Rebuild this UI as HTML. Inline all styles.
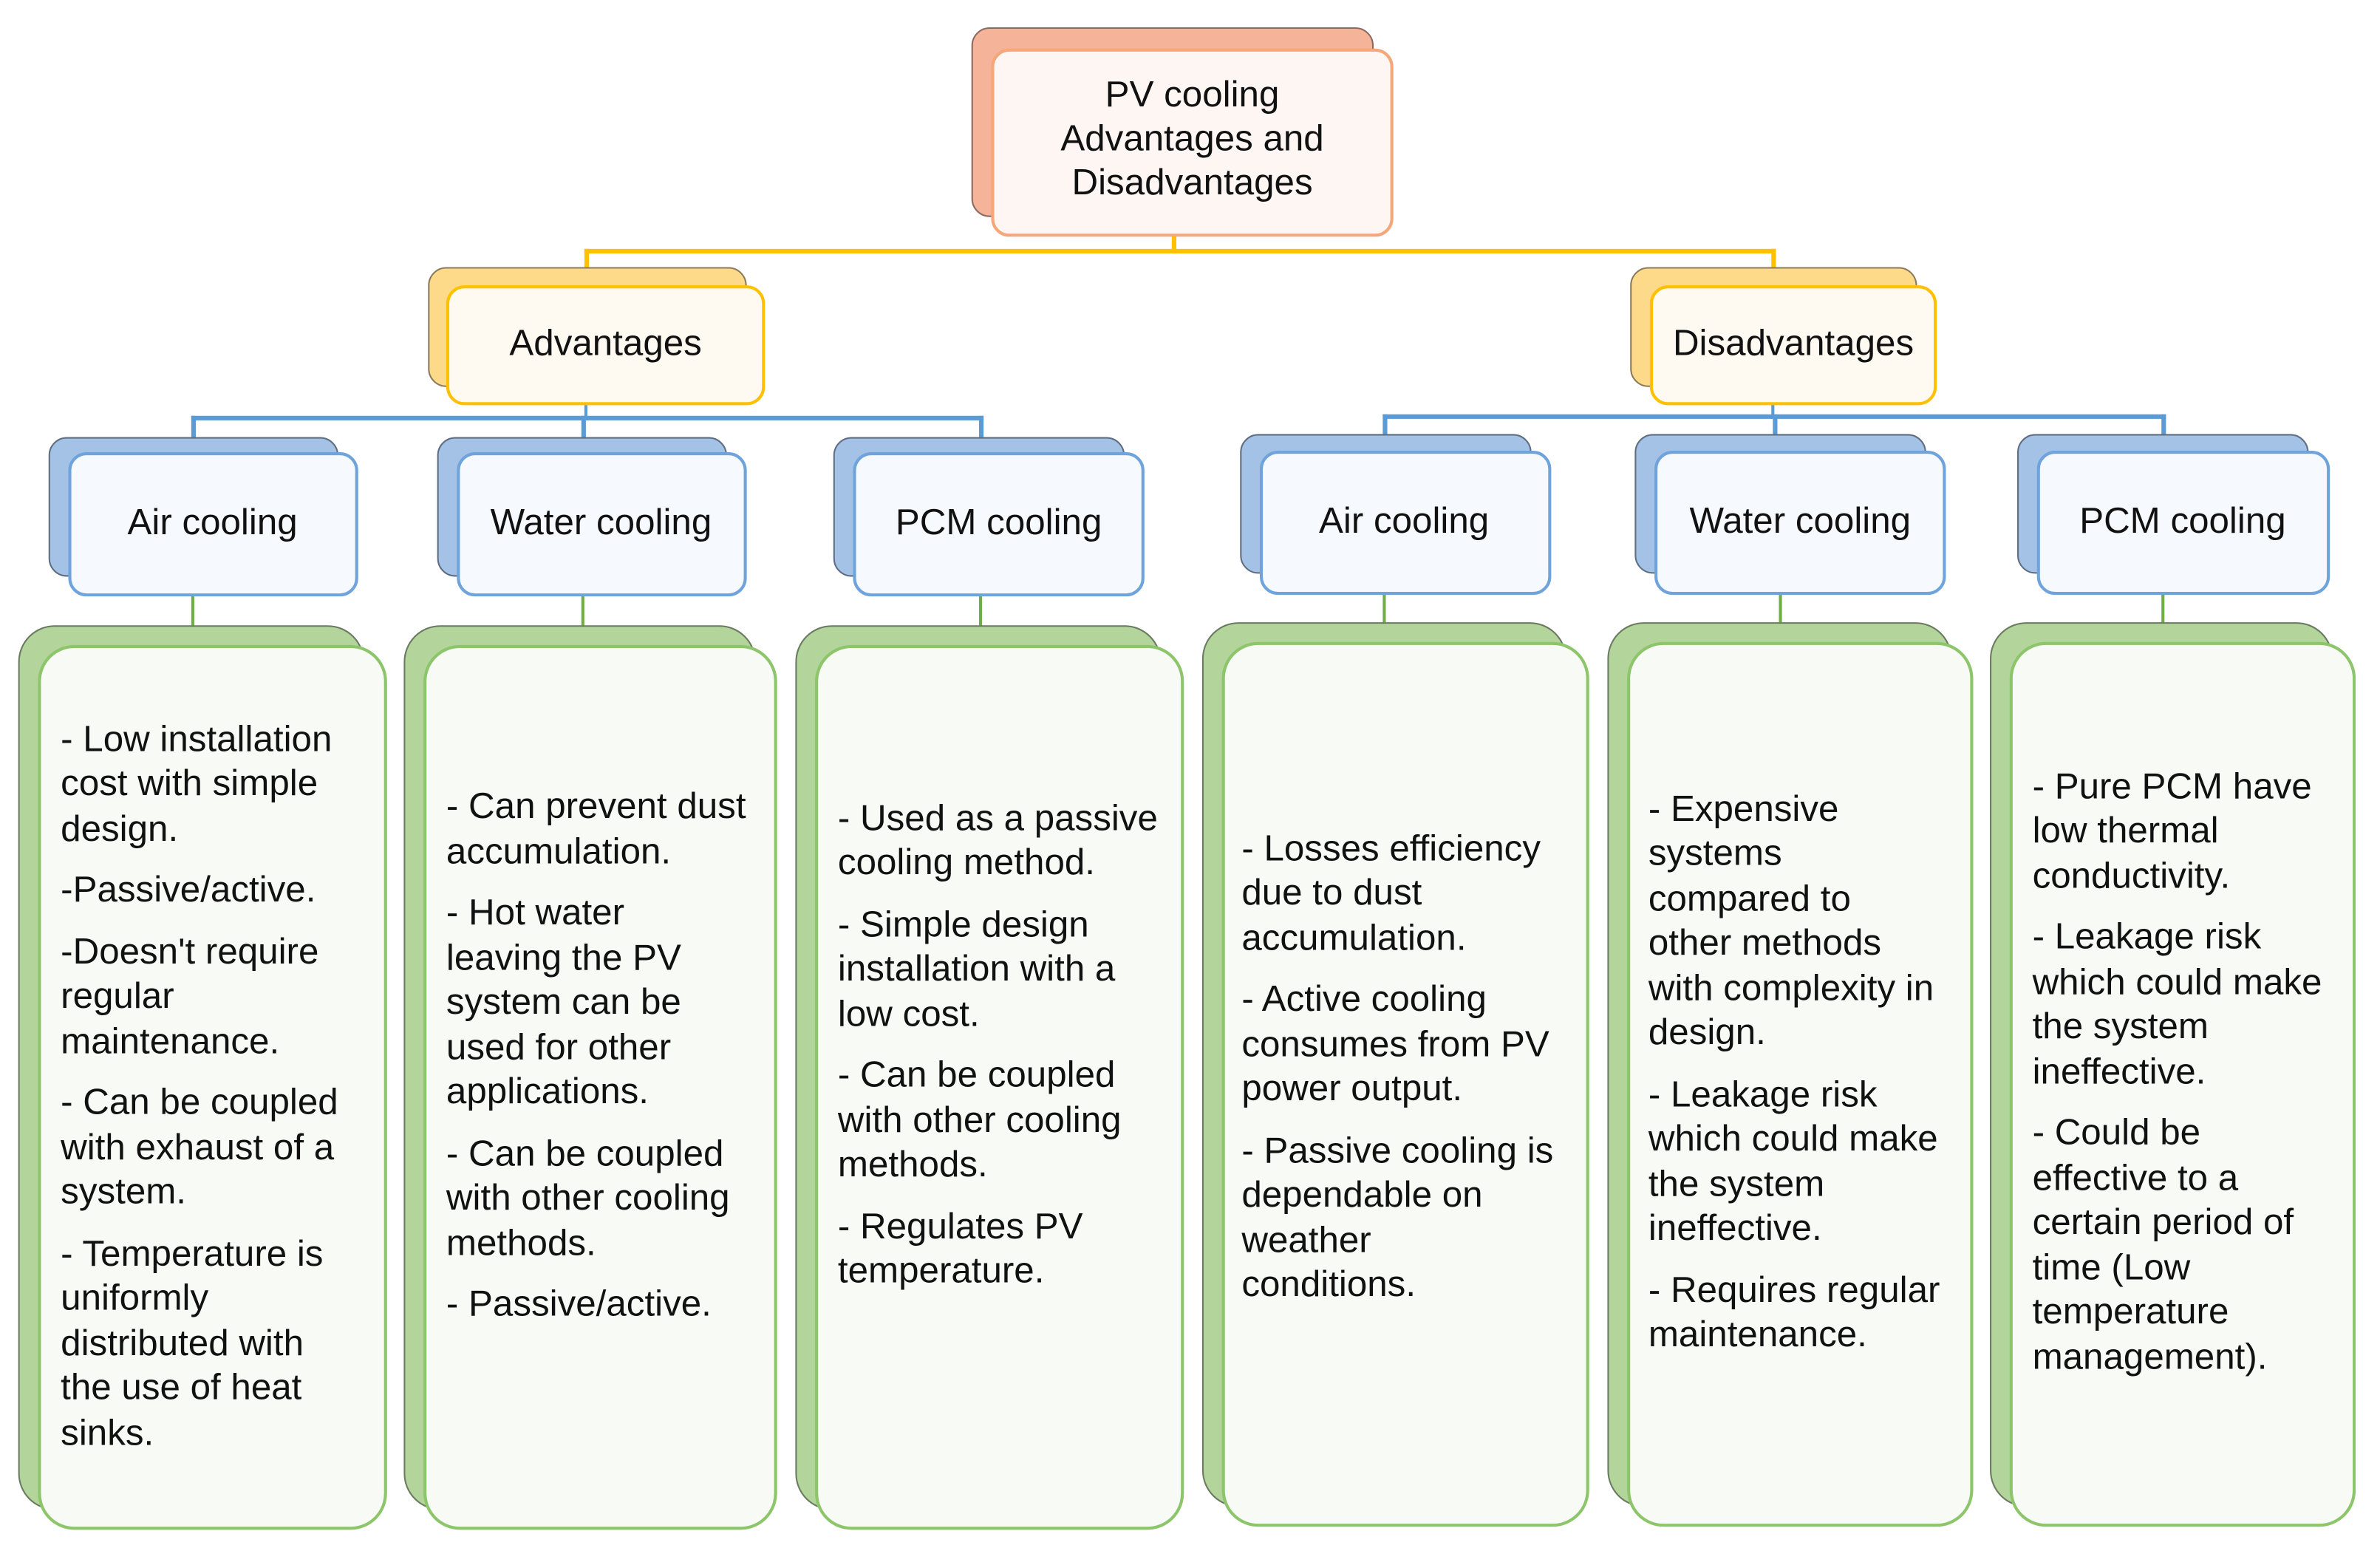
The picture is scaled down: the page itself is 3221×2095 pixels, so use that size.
<!DOCTYPE html>
<html><head><meta charset="utf-8"><style>
html,body{margin:0;padding:0;background:#fff;overflow:hidden}
#w{width:1568px;height:1020px;position:relative;transform:scale(2.0542,2.0539);transform-origin:0 0;font-family:"Liberation Sans",sans-serif;color:#111}
.b{position:absolute;box-sizing:border-box;border-radius:12px}
.t{position:absolute;box-sizing:border-box;display:flex;align-items:center;justify-content:center;text-align:center;font-size:24px;line-height:29px;white-space:nowrap}
.ln{position:absolute}
.g{border-radius:24px}
.tx{position:absolute;box-sizing:border-box;display:flex;flex-direction:column;justify-content:center;font-size:24px;line-height:29.5px;white-space:nowrap;padding-left:15px}
.tx p{margin:0 0 11px 0}
</style></head><body><div id="w">
<!-- connectors -->
<div class="ln" style="left:772px;top:150px;width:3px;height:17px;background:#ffc000"></div>
<div class="ln" style="left:385px;top:164px;width:785px;height:3px;background:#ffc000"></div>
<div class="ln" style="left:385px;top:164px;width:3px;height:14px;background:#ffc000"></div>
<div class="ln" style="left:1167px;top:164px;width:3px;height:14px;background:#ffc000"></div>

<div class="ln" style="left:385px;top:265px;width:2px;height:11px;background:#5b9bd5"></div>
<div class="ln" style="left:126px;top:274px;width:522px;height:3px;background:#5b9bd5"></div>
<div class="ln" style="left:126px;top:274px;width:3px;height:14px;background:#5b9bd5"></div>
<div class="ln" style="left:383px;top:274px;width:3px;height:14px;background:#5b9bd5"></div>
<div class="ln" style="left:645px;top:274px;width:3px;height:14px;background:#5b9bd5"></div>
<div class="ln" style="left:1167px;top:265px;width:2px;height:11px;background:#5b9bd5"></div>
<div class="ln" style="left:911px;top:273px;width:516px;height:3px;background:#5b9bd5"></div>
<div class="ln" style="left:911px;top:273px;width:3px;height:14px;background:#5b9bd5"></div>
<div class="ln" style="left:1168px;top:273px;width:3px;height:14px;background:#5b9bd5"></div>
<div class="ln" style="left:1424px;top:273px;width:3px;height:14px;background:#5b9bd5"></div>

<div class="ln" style="left:126px;top:392px;width:2px;height:21px;background:#70ad47"></div>
<div class="ln" style="left:383px;top:392px;width:2px;height:21px;background:#70ad47"></div>
<div class="ln" style="left:645px;top:392px;width:2px;height:21px;background:#70ad47"></div>
<div class="ln" style="left:911px;top:391px;width:2px;height:21px;background:#70ad47"></div>
<div class="ln" style="left:1172px;top:391px;width:2px;height:21px;background:#70ad47"></div>
<div class="ln" style="left:1424px;top:391px;width:2px;height:21px;background:#70ad47"></div>

<!-- root -->
<div class="b" style="left:640px;top:18px;width:265px;height:125px;background:#f5b49a;border:1px solid #8a6a60"></div>
<div class="b" style="left:653px;top:32px;width:265px;height:124px;background:#fdf6f3;border:2px solid #f4a77a"></div>
<div class="t" style="left:653px;top:32px;width:265px;height:118px">PV cooling<br>Advantages and<br>Disadvantages</div>

<!-- level 2 -->
<div class="b" style="left:282px;top:176px;width:210px;height:79px;background:#fdd98a;border:1px solid #8a7a5a"></div>
<div class="b" style="left:294px;top:188px;width:210px;height:79px;background:#fffaf1;border:2px solid #ffc000"></div>
<div class="t" style="left:294px;top:188px;width:210px;height:76px">Advantages</div>
<div class="b" style="left:1074px;top:176px;width:189px;height:79px;background:#fdd98a;border:1px solid #8a7a5a"></div>
<div class="b" style="left:1087px;top:188px;width:189px;height:79px;background:#fffaf1;border:2px solid #ffc000"></div>
<div class="t" style="left:1087px;top:188px;width:189px;height:76px">Disadvantages</div>

<!-- level 3 -->
<div class="b" style="left:32px;top:288px;width:191px;height:92px;background:#a4c2e6;border:1px solid #5e6e80"></div>
<div class="b" style="left:45px;top:298px;width:191px;height:95px;background:#f6f9fd;border:2px solid #6fa3dc"></div>
<div class="t" style="left:45px;top:298px;width:190px;height:92px">Air cooling</div>
<div class="b" style="left:288px;top:288px;width:191px;height:92px;background:#a4c2e6;border:1px solid #5e6e80"></div>
<div class="b" style="left:301px;top:298px;width:191px;height:95px;background:#f6f9fd;border:2px solid #6fa3dc"></div>
<div class="t" style="left:301px;top:298px;width:190px;height:92px">Water cooling</div>
<div class="b" style="left:549px;top:288px;width:192px;height:92px;background:#a4c2e6;border:1px solid #5e6e80"></div>
<div class="b" style="left:562px;top:298px;width:192px;height:95px;background:#f6f9fd;border:2px solid #6fa3dc"></div>
<div class="t" style="left:562px;top:298px;width:192px;height:92px">PCM cooling</div>
<div class="b" style="left:817px;top:286px;width:192px;height:92px;background:#a4c2e6;border:1px solid #5e6e80"></div>
<div class="b" style="left:830px;top:297px;width:192px;height:95px;background:#f6f9fd;border:2px solid #6fa3dc"></div>
<div class="t" style="left:830px;top:297px;width:190px;height:92px">Air cooling</div>
<div class="b" style="left:1077px;top:286px;width:192px;height:92px;background:#a4c2e6;border:1px solid #5e6e80"></div>
<div class="b" style="left:1090px;top:297px;width:192px;height:95px;background:#f6f9fd;border:2px solid #6fa3dc"></div>
<div class="t" style="left:1090px;top:297px;width:192px;height:92px">Water cooling</div>
<div class="b" style="left:1329px;top:286px;width:192px;height:92px;background:#a4c2e6;border:1px solid #5e6e80"></div>
<div class="b" style="left:1342px;top:297px;width:193px;height:95px;background:#f6f9fd;border:2px solid #6fa3dc"></div>
<div class="t" style="left:1342px;top:297px;width:192px;height:92px">PCM cooling</div>

<!-- green boxes -->
<div class="b g" style="left:12px;top:412px;width:228px;height:583px;background:#b3d59c;border:1px solid #6a7a60"></div>
<div class="b g" style="left:25px;top:425px;width:230px;height:583px;background:#f8faf6;border:2px solid #8cc56a"></div>
<div class="tx" style="left:25px;top:425px;width:230px;height:583px;padding-top:10px"><p>- Low installation<br>cost with simple<br>design.</p><p>-Passive/active.</p><p>-Doesn't require<br>regular<br>maintenance.</p><p>- Can be coupled<br>with exhaust of a<br>system.</p><p>- Temperature is<br>uniformly<br>distributed with<br>the use of heat<br>sinks.</p></div>

<div class="b g" style="left:266px;top:412px;width:232px;height:583px;background:#b3d59c;border:1px solid #6a7a60"></div>
<div class="b g" style="left:279px;top:425px;width:233px;height:583px;background:#f8faf6;border:2px solid #8cc56a"></div>
<div class="tx" style="left:279px;top:425px;width:233px;height:583px;padding-bottom:30px"><p>- Can prevent dust<br>accumulation.</p><p>- Hot water<br>leaving the PV<br>system can be<br>used for other<br>applications.</p><p>- Can be coupled<br>with other cooling<br>methods.</p><p>- Passive/active.</p></div>

<div class="b g" style="left:524px;top:412px;width:241px;height:583px;background:#b3d59c;border:1px solid #6a7a60"></div>
<div class="b g" style="left:537px;top:425px;width:243px;height:583px;background:#f8faf6;border:2px solid #8cc56a"></div>
<div class="tx" style="left:537px;top:425px;width:243px;height:583px;padding-bottom:45px"><p>- Used as a passive<br>cooling method.</p><p>- Simple design<br>installation with a<br>low cost.</p><p>- Can be coupled<br>with other cooling<br>methods.</p><p>- Regulates PV<br>temperature.</p></div>

<div class="b g" style="left:792px;top:410px;width:240px;height:583px;background:#b3d59c;border:1px solid #6a7a60"></div>
<div class="b g" style="left:805px;top:423px;width:242px;height:583px;background:#f8faf6;border:2px solid #8cc56a"></div>
<div class="tx" style="left:805px;top:423px;width:242px;height:583px;padding-bottom:12px;padding-left:13px"><p>- Losses efficiency<br>due to dust<br>accumulation.</p><p>- Active cooling<br>consumes from PV<br>power output.</p><p>- Passive cooling is<br>dependable on<br>weather<br>conditions.</p></div>

<div class="b g" style="left:1059px;top:410px;width:227px;height:583px;background:#b3d59c;border:1px solid #6a7a60"></div>
<div class="b g" style="left:1072px;top:423px;width:228px;height:583px;background:#f8faf6;border:2px solid #8cc56a"></div>
<div class="tx" style="left:1072px;top:423px;width:228px;height:583px;padding-bottom:5px;padding-left:14px"><p>- Expensive<br>systems<br>compared to<br>other methods<br>with complexity in<br>design.</p><p>- Leakage risk<br>which could make<br>the system<br>ineffective.</p><p>- Requires regular<br>maintenance.</p></div>

<div class="b g" style="left:1311px;top:410px;width:226px;height:583px;background:#b3d59c;border:1px solid #6a7a60"></div>
<div class="b g" style="left:1324px;top:423px;width:228px;height:583px;background:#f8faf6;border:2px solid #8cc56a"></div>
<div class="tx" style="left:1324px;top:423px;width:228px;height:583px;padding-bottom:5px"><p>- Pure PCM have<br>low thermal<br>conductivity.</p><p>- Leakage risk<br>which could make<br>the system<br>ineffective.</p><p>- Could be<br>effective to a<br>certain period of<br>time (Low<br>temperature<br>management).</p></div>
</div></body></html>
